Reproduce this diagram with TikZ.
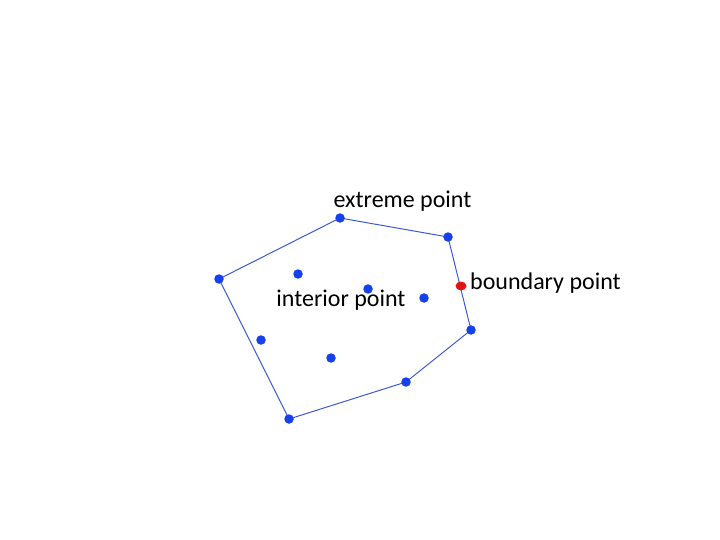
\documentclass[tikz,border=0pt]{standalone}
\usepackage{fontspec}
\setmainfont{Carlito}
\usetikzlibrary{shapes.geometric}
\definecolor{dotblue}{RGB}{22,64,235}
\definecolor{lineblue}{RGB}{60,90,210}
\definecolor{dotred}{RGB}{225,20,20}
\begin{document}
\begin{tikzpicture}[x=1pt,y=-1pt,
  pt/.style={circle,fill=dotblue,inner sep=0pt,minimum size=9.5pt},
  rpt/.style={ellipse,fill=dotred,inner sep=0pt,minimum width=11pt,minimum height=9pt},
  hull/.style={draw=lineblue,line width=1pt},
  lbl/.style={font=\fontsize{24}{28}\selectfont,inner sep=0pt}]
\useasboundingbox (0,0) rectangle (720,540);
\coordinate (ca) at (219,279);
\coordinate (cb) at (340,218);
\coordinate (cc) at (448,237);
\coordinate (cd) at (471,330);
\coordinate (ce) at (406,382);
\coordinate (cf) at (289,419);
\draw[hull] (ca) -- (cb) -- (cc) -- (cd) -- (ce) -- (cf) -- cycle;
\node[pt] (a) at (ca) {};
\node[pt] (b) at (cb) {};
\node[pt] (c) at (cc) {};
\node[pt] (d) at (cd) {};
\node[pt] (e) at (ce) {};
\node[pt] (f) at (cf) {};
\node[pt] (i1) at (298,274) {};
\node[pt] (i2) at (368,289) {};
\node[pt] (i3) at (424,298) {};
\node[pt] (i4) at (261,340) {};
\node[pt] (i5) at (331,358) {};
\node[rpt] (bd) at (461,286) {};
\node[lbl] (l1) at (402.5,201) {extreme point};
\node[lbl] (l2) at (341,300) {interior point};
\node[lbl,anchor=west] (l3) at (470,283) {boundary point};
\end{tikzpicture}
\end{document}
